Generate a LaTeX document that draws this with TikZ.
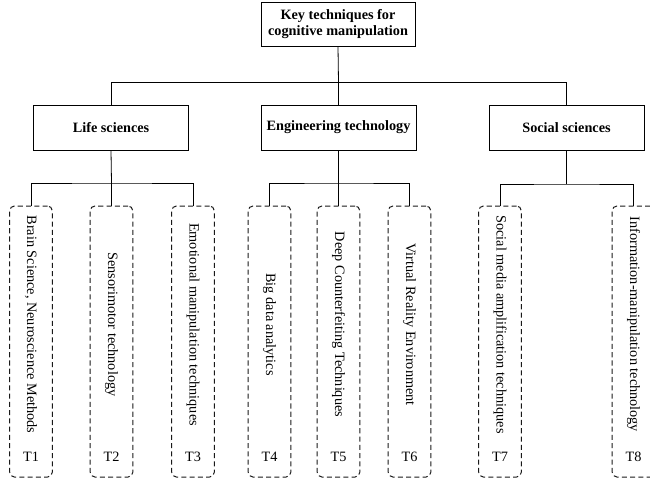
\documentclass[tikz,border=0pt]{standalone}
\usepackage{fontspec}
\setmainfont{Liberation Serif}
\usetikzlibrary{positioning}

\tikzset{
  rootbox/.style={draw, line width=0.6pt, align=center, font=\fontsize{10.7}{12.6}\selectfont\bfseries,
    inner sep=1pt, minimum width=115.5pt, minimum height=33pt},
  groupbox/.style={draw, line width=0.6pt, font=\fontsize{10.7}{12.6}\selectfont\bfseries,
    minimum width=116.25pt, minimum height=33.75pt},
  techbox/.style={draw=black!90, line width=0.75pt, dash pattern=on 3.8pt off 2.4pt,
    rounded corners=3.5pt, minimum width=31.9pt, minimum height=203.25pt},
  techtext/.style={rotate=-90, inner sep=0pt, font=\fontsize{10.7}{12.6}\selectfont},
  techtag/.style={inner sep=0pt, font=\fontsize{10.7}{12.6}\selectfont},
  link/.style={line width=0.6pt}
}

\begin{document}
\begin{tikzpicture}[x=0.75pt,y=-0.75pt]
      \useasboundingbox (0,0) rectangle (650,482);
      % top level
      \draw (338,24) node[rootbox] (root) {Key techniques for\\cognitive manipulation};
      \draw (111,127.5) node[groupbox] (life) {Life sciences};
      \draw (338.5,127.5) node[groupbox] (eng) {Engineering technology};
      \draw (566.5,127.5) node[groupbox] (social) {Social sciences};
      \coordinate (bus1) at (338.5,82.5);
      \draw[link] (root.south) to (bus1);
      \draw[link] (life.north) |- (bus1) -| (social.north);
      \draw[link] (bus1) to (eng.north);
      % life sciences
      \draw (31,341.5) node[techbox] (t1) {};
      \draw (31,324.5) node[techtext] (t1text) {Brain Science, Neuroscience Methods};
      \draw (31,457) node[techtag] (t1tag) {T1};
      \draw (111.5,341.5) node[techbox] (t2) {};
      \draw (111.5,324.5) node[techtext] (t2text) {Sensorimotor technology};
      \draw (111.5,457) node[techtag] (t2tag) {T2};
      \draw (193,341.5) node[techbox] (t3) {};
      \draw (193,324.5) node[techtext] (t3text) {Emotional manipulation techniques};
      \draw (193,457) node[techtag] (t3tag) {T3};
      % engineering technology
      \draw (269.5,341.5) node[techbox] (t4) {};
      \draw (269.5,324.5) node[techtext] (t4text) {Big data analytics};
      \draw (269.5,457) node[techtag] (t4tag) {T4};
      \draw (338.5,341.5) node[techbox] (t5) {};
      \draw (338.5,324.5) node[techtext] (t5text) {Deep Counterfeiting Techniques};
      \draw (338.5,457) node[techtag] (t5tag) {T5};
      \draw (409.5,341.5) node[techbox] (t6) {};
      \draw (409.5,324.5) node[techtext] (t6text) {Virtual Reality Environment};
      \draw (409.5,457) node[techtag] (t6tag) {T6};
      % social sciences
      \draw (500,341.5) node[techbox] (t7) {};
      \draw (500,324.5) node[techtext] (t7text) {Social media amplification techniques};
      \draw (500,457) node[techtag] (t7tag) {T7};
      \draw (633.5,341.5) node[techbox] (t8) {};
      \draw (633.5,324.5) node[techtext] (t8text) {Information-manipulation technology};
      \draw (633.5,457) node[techtag] (t8tag) {T8};
      % links to the leaves
      \coordinate (bus2) at (111.5,183);
      \coordinate (bus3) at (338.5,183);
      \coordinate (bus4) at (566.5,184);
      \draw[link] (life.south) to (bus2);
      \draw[link] (t1.north) |- (bus2) -| (t3.north);
      \draw[link] (bus2) to (t2.north);
      \draw[link] (eng.south) to (bus3);
      \draw[link] (t4.north) |- (bus3) -| (t6.north);
      \draw[link] (bus3) to (t5.north);
      \draw[link] (social.south) to (bus4);
      \draw[link] (t7.north) |- (bus4) -| (t8.north);
      \end{tikzpicture}
\end{document}
